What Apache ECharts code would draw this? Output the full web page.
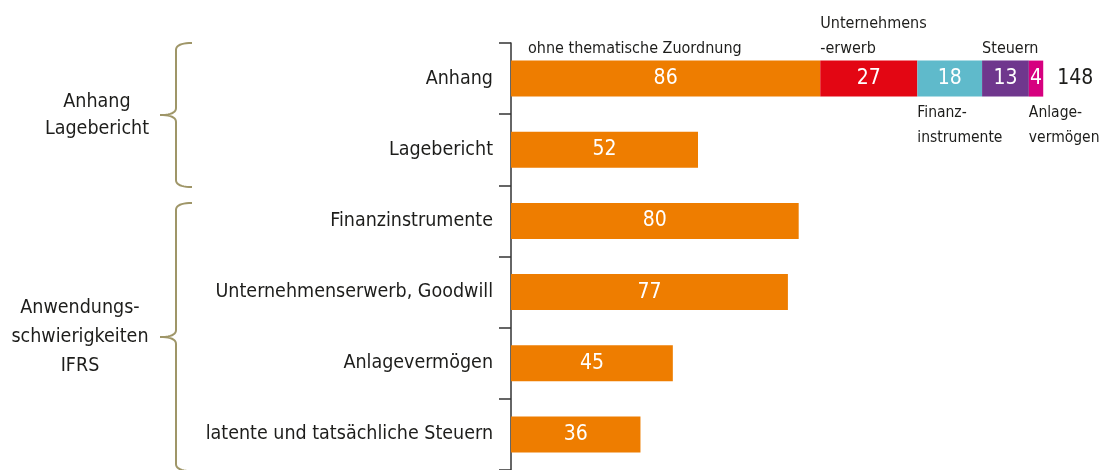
<!DOCTYPE html>
<html>
<head>
<meta charset="utf-8">
<script src="https://cdn.jsdelivr.net/npm/echarts@6/dist/echarts.min.js"></script>
<style>
html, body { margin: 0; padding: 0; background: #fff; }
#main { width: 1101px; height: 470px; }
</style>
</head>
<body>
<div id="main"></div>
<script>
var categories = ['Anhang', 'Lagebericht', 'Finanzinstrumente', 'Unternehmenserwerb, Goodwill', 'Anlagevermögen', 'latente und tatsächliche Steuern'];
// Anhang + Lagebericht, "ohne thematische Zuordnung"
var reportValues = [86, 52];
// Anwendungsschwierigkeiten IFRS
var ifrsValues = [80, 77, 45, 36];
// thematic parts of the Anhang bar
var partNames = ['Unternehmens\n-erwerb', 'Finanz-\ninstrumente', 'Steuern', 'Anlage-\nvermögen'];
var partValues = [27, 18, 13, 4];
var partAbove = [true, false, true, false];
var partColors = ['#e30613', '#5fbacb', '#6f378d', '#d6007f'];
var groupNames = ['Anhang\nLagebericht', 'Anwendungs-\nschwierigkeiten\nIFRS'];

var FONT = '"Liberation Sans Narrow", "Arial Narrow", "DejaVu Sans Condensed", sans-serif';
var ORANGE = '#ee7d00';
var INK = '#1d1d1b';
var BRACE = '#9f9668';

var myChart = echarts.init(document.getElementById('main'));

function markLabel(text, start, above, dx) {
    return {
        coord: [start, 0],
        symbolSize: 0,
        label: {
            show: true,
            formatter: text,
            position: [dx, above ? -17 : 22],
            align: 'left',
            verticalAlign: above ? 'bottom' : 'top',
            fontFamily: FONT,
            fontSize: above ? 16 : 15.5,
            lineHeight: 25,
            color: INK
        }
    };
}

var valueLabel = {
    show: true,
    position: 'inside',
    color: '#fff',
    fontFamily: FONT,
    fontSize: 21
};

var series = [];
series.push({
    type: 'bar',
    stack: 'a',
    barWidth: 36,
    itemStyle: { color: ORANGE },
    label: valueLabel,
    data: reportValues.concat(ifrsValues),
    markPoint: { symbol: 'circle', data: [markLabel('ohne thematische Zuordnung', 0, true, 17)] }
});
var start = reportValues[0];
partValues.forEach(function (v, i) {
    var s = {
        type: 'bar',
        stack: 'a',
        barWidth: 36,
        itemStyle: { color: partColors[i] },
        label: valueLabel,
        data: [v, '-', '-', '-', '-', '-'],
        markPoint: { symbol: 'circle', data: [markLabel(partNames[i], start, partAbove[i], 0)] }
    };
    start += v;
    if (i === partValues.length - 1) {
        s.markPoint.data.push({
            coord: [start, 0],
            symbolSize: 0,
            label: {
                show: true,
                formatter: String(start),
                position: [14, 0],
                align: 'left',
                verticalAlign: 'middle',
                fontFamily: FONT,
                fontSize: 21,
                color: INK
            }
        });
    }
    series.push(s);
});

// curly brace as a polyline, corners sampled from quadratic curves
function quad(pts, p0, c, p1) {
    for (var t = 0.1; t <= 1.0001; t += 0.1) {
        var u = 1 - t;
        pts.push([u * u * p0[0] + 2 * u * t * c[0] + t * t * p1[0], u * u * p0[1] + 2 * u * t * c[1] + t * t * p1[1]]);
    }
}
function brace(top, mid, bottom) {
    var x = 176, r = 7, pts = [[192, top]];
    quad(pts, [192, top], [x, top], [x, top + r]);
    pts.push([x, mid - r]);
    quad(pts, [x, mid - r], [x, mid], [160, mid]);
    quad(pts, [160, mid], [x, mid], [x, mid + r]);
    pts.push([x, bottom - r]);
    quad(pts, [x, bottom - r], [x, bottom], [192, bottom]);
    return {
        type: 'polyline',
        shape: { points: pts },
        style: { stroke: BRACE, fill: null, lineWidth: 2 }
    };
}

myChart.setOption({
    animation: false,
    grid: { left: 511, top: 43, width: 561, height: 432 },
    xAxis: { type: 'value', min: 0, max: 156, show: false },
    yAxis: {
        type: 'category',
        inverse: true,
        data: categories,
        axisLine: { show: true, lineStyle: { color: '#333', width: 1.5 } },
        axisTick: { show: true, length: 12, lineStyle: { color: '#333', width: 1.5 } },
        axisLabel: { margin: 18, color: INK, fontFamily: FONT, fontSize: 19.5 }
    },
    series: series,
    graphic: [
        brace(43, 115, 187),
        brace(203, 337, 471),
        {
            type: 'text', x: 97, y: 115,
            style: { text: groupNames[0], align: 'center', verticalAlign: 'middle', fill: INK, font: '19.5px ' + FONT, lineHeight: 27 }
        },
        {
            type: 'text', x: 80, y: 337,
            style: { text: groupNames[1], align: 'center', verticalAlign: 'middle', fill: INK, font: '19.5px ' + FONT, lineHeight: 29 }
        }
    ]
});
</script>
</body>
</html>
